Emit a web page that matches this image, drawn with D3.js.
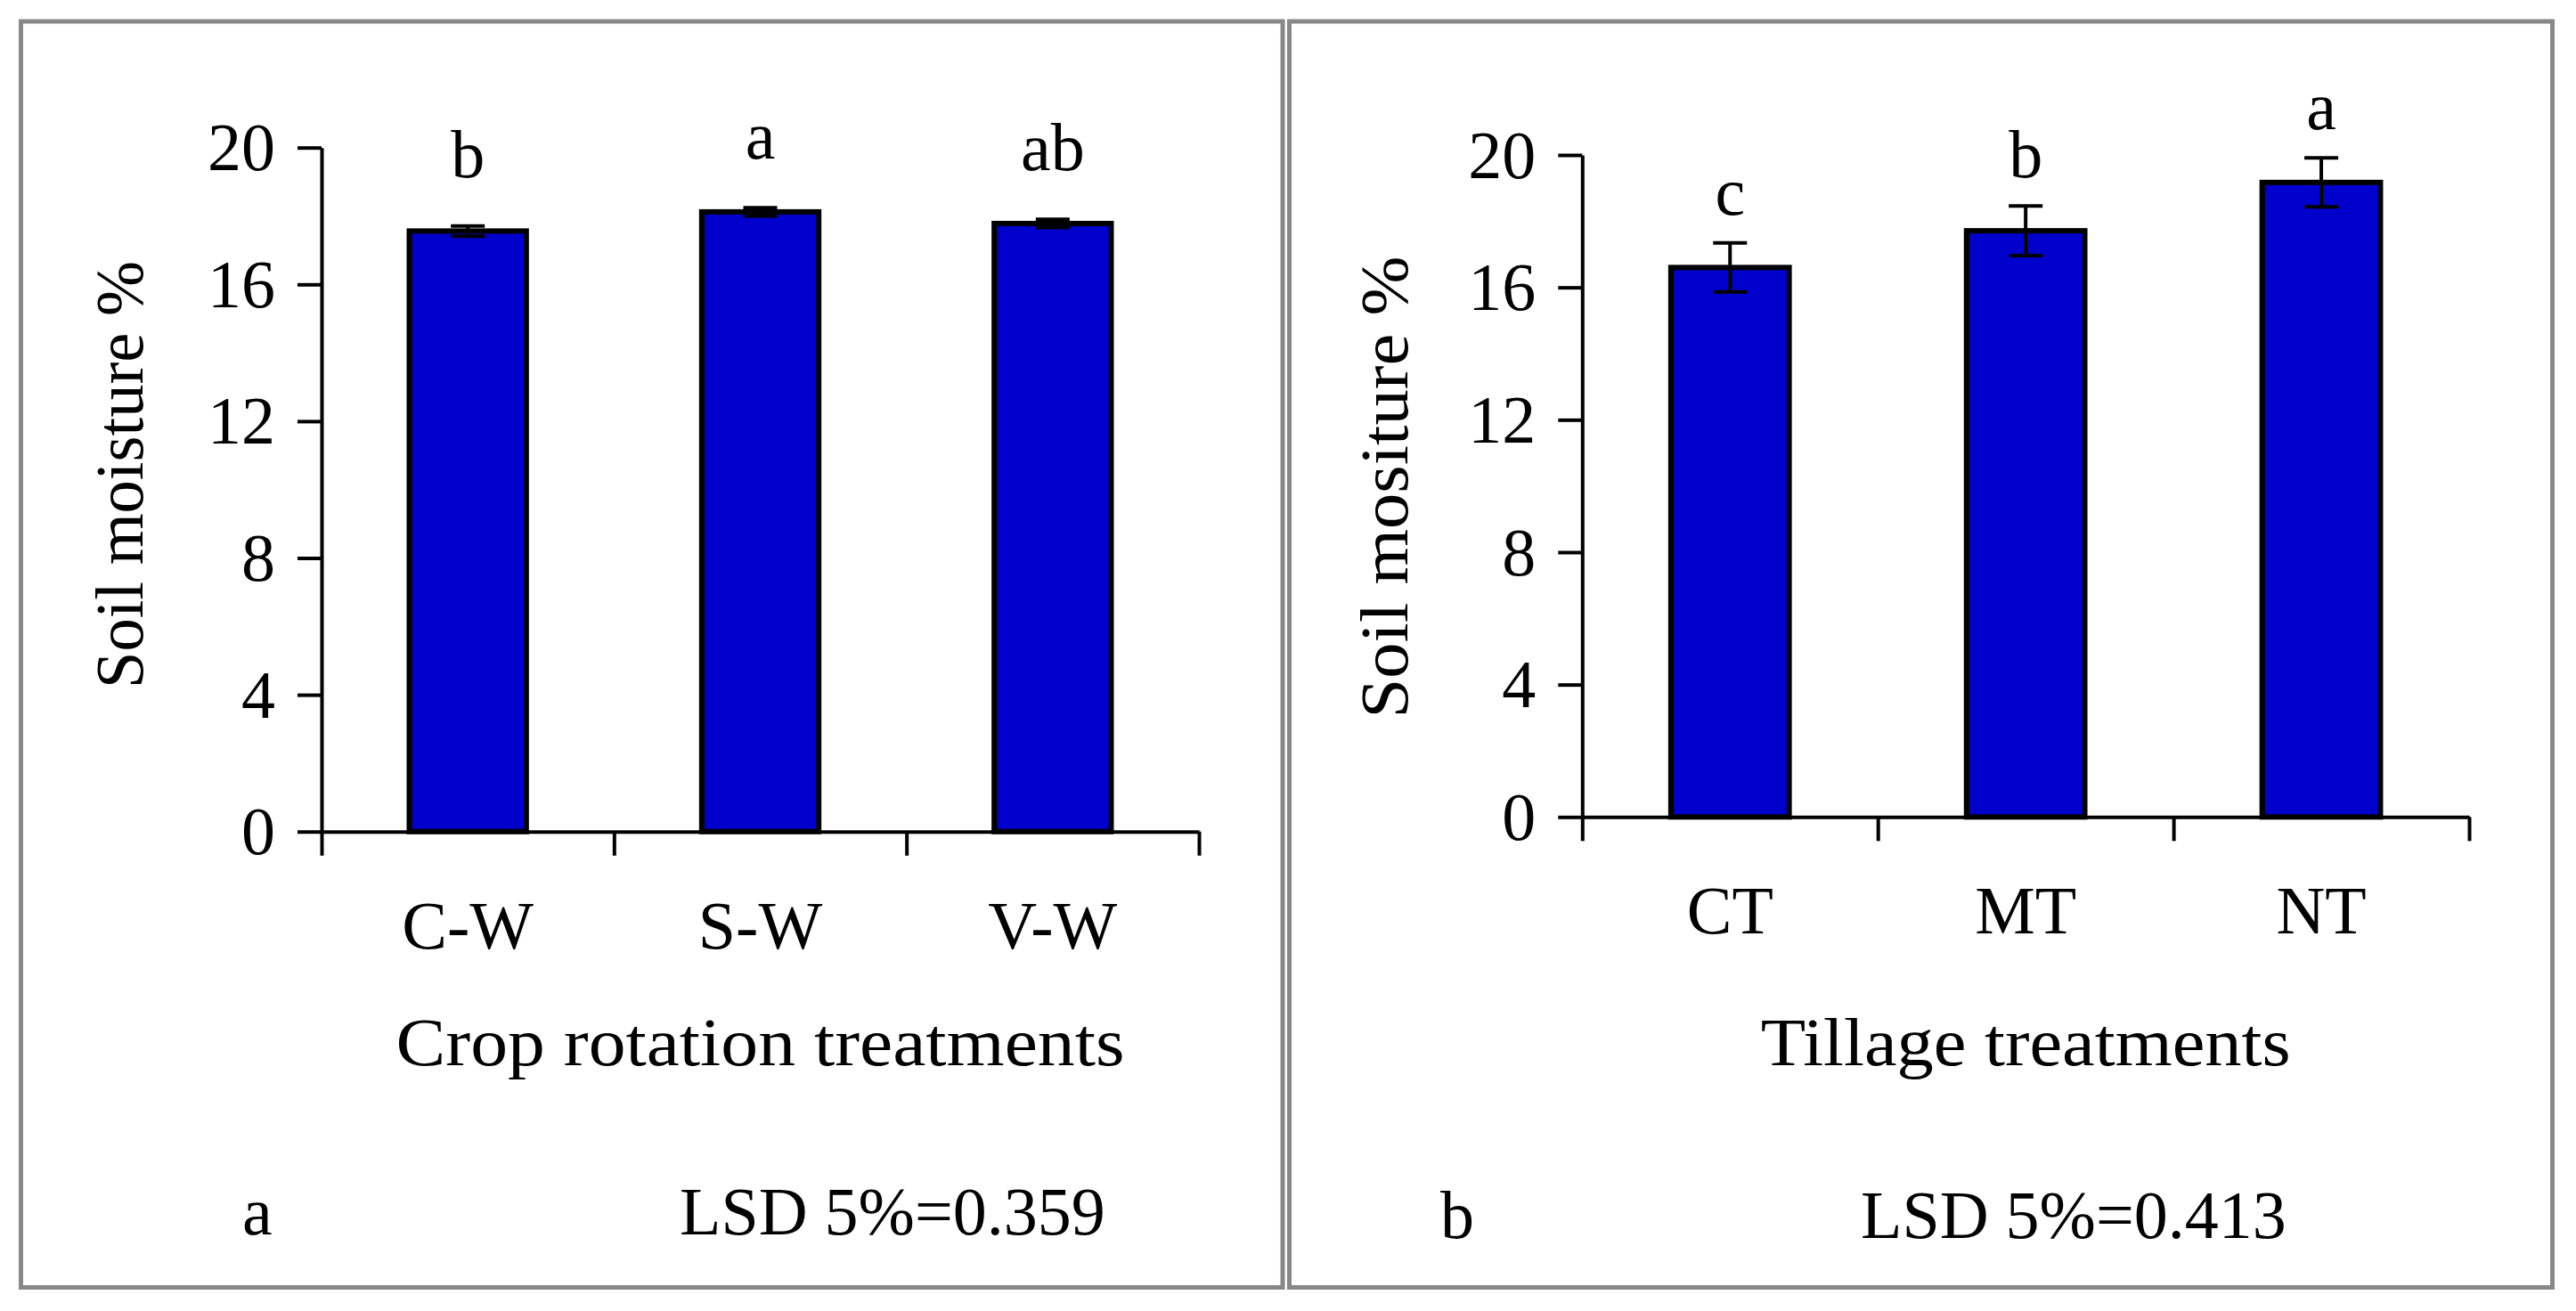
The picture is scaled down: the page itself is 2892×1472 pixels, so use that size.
<!DOCTYPE html>
<html>
<head>
<meta charset="utf-8">
<script src="https://cdn.jsdelivr.net/npm/d3@7"></script>
<style>
  body { margin: 0; background: #fff; }
  text { font-family: 'Liberation Serif', 'Times New Roman', serif; fill: #000; }
</style>
</head>
<body>
<svg id="chart" width="2892" height="1472"></svg>
<script>
// panel a : crop rotation
const rotationCategories = ['C-W', 'S-W', 'V-W']
const rotationMoisture = [17.56, 18.12, 17.78]
const rotationError = [0.15, 0.12, 0.12]
const rotationLetters = ['b', 'a', 'ab']

// panel b : tillage
const tillageCategories = ['CT', 'MT', 'NT']
const tillageMoisture = [16.6, 17.71, 19.17]
const tillageError = [0.74, 0.75, 0.74]
const tillageLetters = ['c', 'b', 'a']

const yTicks = [0, 4, 8, 12, 16, 20]

const FONT = 76

const panels = [
  {
    cats: rotationCategories, values: rotationMoisture, errors: rotationError, letters: rotationLetters,
    frame: [23.5, 24, 1440, 1445.5],
    x0: 361, x1: 1346, yTop: 165.7, yZero: 933.7,
    yTitle: 'Soil moisture %', yTitleX: 160, yTitleY: 533, yTitleLen: 480,
    xTitle: 'Crop rotation treatments', xTitleLen: 818,
    letterGap: 55,
    tag: 'a', tagX: 272, lsd: 'LSD 5%=0.359', lsdX: 763, footY: 1386
  },
  {
    cats: tillageCategories, values: tillageMoisture, errors: tillageError, letters: tillageLetters,
    frame: [1447.5, 24, 2865.5, 1445.5],
    x0: 1776.3, x1: 2772, yTop: 174, yZero: 917.3,
    yTitle: 'Soil mositure %', yTitleX: 1580, yTitleY: 547, yTitleLen: 519,
    xTitle: 'Tillage treatments', xTitleLen: 595,
    letterGap: 32,
    tag: 'b', tagX: 1617, lsd: 'LSD 5%=0.413', lsdX: 2089, footY: 1390
  }
]

const svg = d3.select('#chart')

panels.forEach(p => drawPanel(svg, p))

/**
 * Draw one framed bar chart panel
 */
function drawPanel (svg, p) {
  const g = svg.append('g')

  // grey frame round the panel
  g.append('rect')
    .attr('x', p.frame[0])
    .attr('y', p.frame[1])
    .attr('width', p.frame[2] - p.frame[0])
    .attr('height', p.frame[3] - p.frame[1])
    .attr('fill', 'none')
    .attr('stroke', '#888888')
    .attr('stroke-width', 5)

  const x = d3.scaleBand().domain(p.cats).range([p.x0, p.x1]).padding(0)
  const xEdge = d3.scaleLinear().domain([0, p.cats.length]).range([p.x0, p.x1])
  const y = d3.scaleLinear().domain([0, 20]).range([p.yZero, p.yTop])

  const rows = p.cats.map((c, i) => ({ cat: c, v: p.values[i], e: p.errors[i], letter: p.letters[i] }))
  const barW = x.bandwidth() * 0.4

  g.selectAll('.bar')
    .data(rows)
    .enter().append('rect')
    .attr('class', 'bar')
    .attr('x', d => x(d.cat) + (x.bandwidth() - barW) / 2)
    .attr('y', d => y(d.v))
    .attr('width', barW)
    .attr('height', d => y(0) - y(d.v))
    .attr('fill', '#0000cc')
    .attr('stroke', '#000')
    .attr('stroke-width', 6)

  // error bars
  const cx = d => x(d.cat) + x.bandwidth() / 2
  const err = g.selectAll('.err').data(rows).enter().append('g').attr('class', 'err')
  err.append('line')
    .attr('x1', cx).attr('x2', cx)
    .attr('y1', d => y(d.v - d.e)).attr('y2', d => y(d.v + d.e))
  err.append('line')
    .attr('x1', d => cx(d) - 19).attr('x2', d => cx(d) + 19)
    .attr('y1', d => y(d.v + d.e)).attr('y2', d => y(d.v + d.e))
  err.append('line')
    .attr('x1', d => cx(d) - 19).attr('x2', d => cx(d) + 19)
    .attr('y1', d => y(d.v - d.e)).attr('y2', d => y(d.v - d.e))
  err.selectAll('line').attr('stroke', '#000').attr('stroke-width', 4)

  // significance letters
  g.selectAll('.letter')
    .data(rows)
    .enter().append('text')
    .attr('x', cx)
    .attr('y', d => y(d.v + d.e) - p.letterGap)
    .attr('text-anchor', 'middle')
    .attr('font-size', FONT)
    .text(d => d.letter)

  // axes
  const yAxis = g.append('g')
    .attr('transform', 'translate(' + p.x0 + ',0)')
    .call(d3.axisLeft(y).tickValues(yTicks).tickSize(27).tickSizeOuter(0).tickPadding(25))
  const xAxis = g.append('g')
    .attr('transform', 'translate(0,' + p.yZero + ')')
    .call(d3.axisBottom(xEdge).tickValues(d3.range(p.cats.length + 1)).tickSize(27).tickSizeOuter(0).tickFormat(''))

  ;[yAxis, xAxis].forEach(a => {
    a.selectAll('path, line').attr('stroke', '#000').attr('stroke-width', 4)
    a.selectAll('text').attr('font-size', FONT).attr('font-family', null).attr('dy', '0.33em')
  })

  // category labels
  g.selectAll('.cat')
    .data(p.cats)
    .enter().append('text')
    .attr('x', d => x(d) + x.bandwidth() / 2)
    .attr('y', p.yZero + 131)
    .attr('text-anchor', 'middle')
    .attr('font-size', FONT)
    .text(d => d)

  // axis titles
  g.append('text')
    .attr('transform', 'translate(' + p.yTitleX + ',' + p.yTitleY + ') rotate(-90)')
    .attr('text-anchor', 'middle')
    .attr('font-size', FONT)
    .attr('textLength', p.yTitleLen)
    .attr('lengthAdjust', 'spacingAndGlyphs')
    .text(p.yTitle)

  g.append('text')
    .attr('x', (p.x0 + p.x1) / 2)
    .attr('y', 1196)
    .attr('text-anchor', 'middle')
    .attr('font-size', FONT)
    .attr('textLength', p.xTitleLen)
    .attr('lengthAdjust', 'spacingAndGlyphs')
    .text(p.xTitle)

  // panel tag and LSD note
  g.append('text').attr('x', p.tagX).attr('y', p.footY).attr('font-size', FONT).text(p.tag)
  g.append('text').attr('x', p.lsdX).attr('y', p.footY).attr('font-size', FONT).text(p.lsd)
}
</script>
</body>
</html>
